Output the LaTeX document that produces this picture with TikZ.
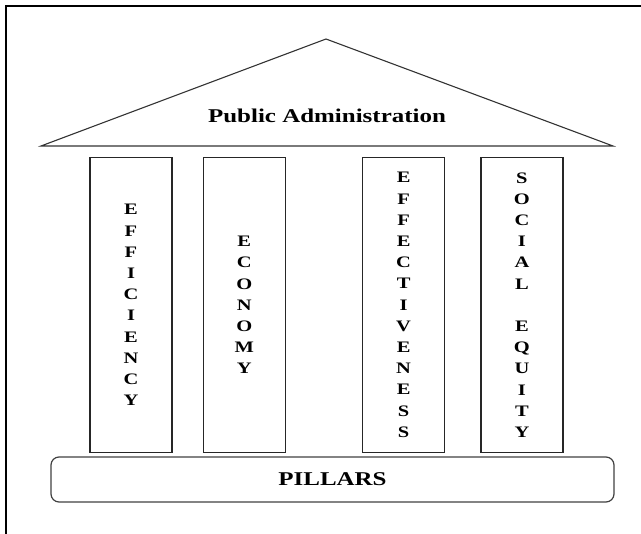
\documentclass[tikz,border=0pt]{standalone}
\usepackage{fontspec}
\setmainfont{Liberation Serif}[FakeStretch=1.28]
\usetikzlibrary{positioning}

\tikzstyle{pillar} = [rectangle, minimum width=82pt, minimum height=295pt, inner sep=0pt, align=center, draw=black!85, line width=1.3pt, font=\fontsize{16}{21.2}\selectfont\bfseries]
\tikzstyle{base} = [rectangle, rounded corners=8pt, minimum width=563pt, minimum height=45pt, text centered, draw=black!75, line width=1.2pt, font=\fontsize{19.5}{22}\selectfont\bfseries]
\tikzstyle{roof} = [draw=black!80, line width=1.1pt]
\tikzstyle{title} = [font=\fontsize{19.5}{22}\selectfont\bfseries]

\begin{document}
\begin{tikzpicture}[x=1pt, y=-1pt, node distance=30pt]
		\useasboundingbox (0,0) rectangle (641,534);
		\draw [line width=2.4pt] (6,534) -- (6,6) -- (641,6);

		\coordinate (apex) at (326,39);
		\coordinate (eaveL) at (41,146);
		\coordinate (eaveR) at (613,146);
		\draw [roof] (eaveL) -- (apex) -- (eaveR) -- cycle;
		\node (title) [title] at (327,116) {Public Administration};

		\node (efficiency) [pillar] at (131,305) {E\\F\\F\\I\\C\\I\\E\\N\\C\\Y};
		\node (economy) [pillar, right=30pt of efficiency] {E\\C\\O\\N\\O\\M\\Y};
		\node (effectiveness) [pillar, right=76pt of economy] {E\\F\\F\\E\\C\\T\\I\\V\\E\\N\\E\\S\\S};
		\node (equity) [pillar, right=35pt of effectiveness] {S\\O\\C\\I\\A\\L\\[21.2pt]E\\Q\\U\\I\\T\\Y};
		\node (pillars) [base] at (332.5,479.5) {PILLARS};
	\end{tikzpicture}
\end{document}
